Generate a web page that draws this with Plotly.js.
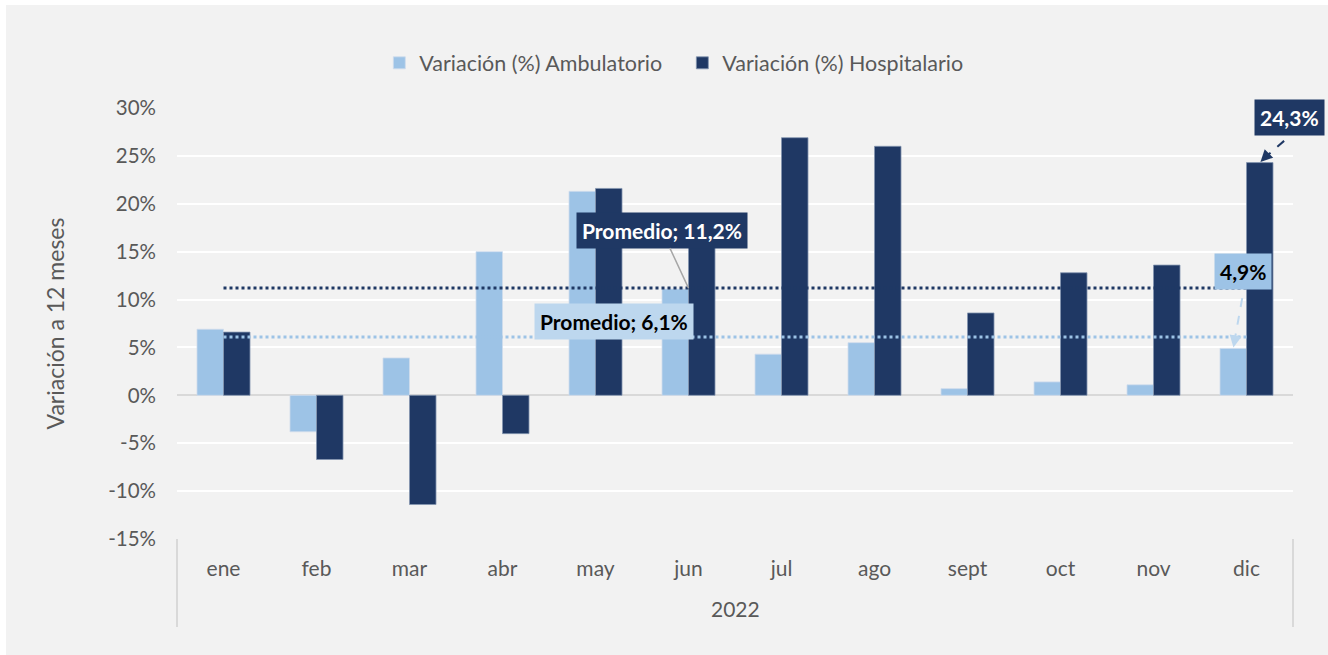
<!DOCTYPE html>
<html>
<head>
<meta charset="utf-8">
<script src="https://cdn.plot.ly/plotly-3.0.1.min.js"></script>
<style>
  html, body { margin: 0; padding: 0; background: #ffffff; }
  #chart { position: absolute; left: 6px; top: 5px; width: 1322px; height: 650px; }
</style>
</head>
<body>
<div id="chart"></div>
<script>
// ---- data ----
const months = ['ene','feb','mar','abr','may','jun','jul','ago','sept','oct','nov','dic'];
const ambulatorio = [0.069, -0.038, 0.039, 0.150, 0.213, 0.111, 0.043, 0.055, 0.007, 0.014, 0.011, 0.049];
const hospitalario = [0.066, -0.067, -0.114, -0.040, 0.216, 0.170, 0.269, 0.260, 0.086, 0.128, 0.136, 0.243];
const promedioAmb = 0.061;
const promedioHosp = 0.112;
const yTickVals = [-0.15, -0.10, -0.05, 0, 0.05, 0.10, 0.15, 0.20, 0.25, 0.30];
const yTickText = ['-15%', '-10%', '-5%', '0%', '5%', '10%', '15%', '20%', '25%', '30%'];
const yearLabel = '2022';
const seriesNames = ['Variación (%) Ambulatorio', 'Variación (%) Hospitalario'];

// ---- style ----
const cLight = '#9dc3e6';
const cLighter = '#bdd7ee';
const cDark = '#1f3864';
const cText = '#595959';
const FONT = 'Lato, "Open Sans", sans-serif';

const lastIdx = months.length - 1;
const barShift = 0.1425; // half-group offset in category units

const traces = [
  {
    type: 'bar', name: seriesNames[0], x: months, y: ambulatorio,
    marker: { color: cLight, line: { color: '#cfdcec', width: 0.8 } },
    hoverinfo: 'skip'
  },
  {
    type: 'bar', name: seriesNames[1], x: months, y: hospitalario,
    marker: { color: cDark, line: { color: '#8496b0', width: 0.8 } },
    hoverinfo: 'skip'
  },
  {
    type: 'scatter', mode: 'lines', x: months, y: months.map(() => promedioHosp),
    line: { color: cDark, width: 3, dash: 'dot' }, showlegend: false, hoverinfo: 'skip'
  },
  {
    type: 'scatter', mode: 'lines', x: months, y: months.map(() => promedioAmb),
    line: { color: cLight, width: 3, dash: 'dot' }, showlegend: false, hoverinfo: 'skip'
  }
];

const layout = {
  width: 1322, height: 650,
  paper_bgcolor: '#f2f2f2', plot_bgcolor: '#f2f2f2',
  margin: { l: 171, r: 35, t: 103, b: 116 },
  font: { family: FONT, color: cText, size: 21 },
  barmode: 'group', bargap: 0.43, bargroupgap: 0,
  showlegend: true,
  legend: {
    orientation: 'h', xref: 'container', yref: 'container',
    x: 0.5116, xanchor: 'center', y: 0.911, yanchor: 'middle',
    font: { family: FONT, size: 21.5, color: cText },
    entrywidth: 258, entrywidthmode: 'pixels',
    bgcolor: 'rgba(0,0,0,0)', traceorder: 'normal'
  },
  xaxis: {
    type: 'category', range: [-0.5, months.length - 0.5], autorange: false,
    showgrid: false, zeroline: false, showline: false,
    ticks: '', tickfont: { family: FONT, size: 21, color: cText },
    ticklabelstandoff: 15, fixedrange: true
  },
  yaxis: {
    range: [-0.15, 0.30], autorange: false, tickvals: yTickVals, ticktext: yTickText,
    showgrid: true, gridcolor: '#ffffff', gridwidth: 2,
    zeroline: true, zerolinecolor: '#d9d9d9', zerolinewidth: 2,
    showline: false, ticks: '', ticklabelstandoff: 20,
    tickfont: { family: FONT, size: 20.5, color: cText },
    title: { text: 'Variación a 12 meses', font: { family: FONT, size: 23, color: cText }, standoff: 37 },
    fixedrange: true
  },
  shapes: [
    { type: 'line', xref: 'paper', yref: 'paper', x0: 0, x1: 0, y0: 0, y1: -0.204, line: { color: '#d9d9d9', width: 2 } },
    { type: 'line', xref: 'paper', yref: 'paper', x0: 1, x1: 1, y0: 0, y1: -0.204, line: { color: '#d9d9d9', width: 2 } },
    // dashed arrow shafts
    { type: 'line', xref: 'x', yref: 'y', xsizemode: 'pixel', ysizemode: 'pixel',
      xanchor: lastIdx + barShift, yanchor: hospitalario[lastIdx], x0: 4, y0: 4, x1: 27, y1: 24,
      line: { color: cDark, width: 2, dash: 'dash' } },
    { type: 'line', xref: 'x', yref: 'y', xsizemode: 'pixel', ysizemode: 'pixel',
      xanchor: lastIdx - barShift, yanchor: ambulatorio[lastIdx], x0: 1, y0: 6, x1: 10, y1: 56,
      line: { color: cLighter, width: 2, dash: 'dash' } }
  ],
  annotations: [
    { xref: 'paper', yref: 'paper', x: 0.5, y: -0.162, text: yearLabel, showarrow: false,
      font: { family: FONT, size: 21, color: cText }, xanchor: 'center', yanchor: 'middle' },
    // Promedio hospitalario
    { xref: 'x', yref: 'y', x: 5, y: promedioHosp, ax: -27, ay: -58,
      text: '<b>Promedio; 11,2%</b>', showarrow: true, arrowhead: 0, arrowwidth: 1.5, arrowcolor: '#a6a6a6',
      bgcolor: cDark, borderpad: 5, font: { family: FONT, size: 21, color: '#ffffff' } },
    // Promedio ambulatorio
    { xref: 'x', yref: 'y', x: 4.2, y: 0.0766, showarrow: false,
      text: '<b>Promedio; 6,1%</b>', bgcolor: cLighter, borderpad: 5,
      font: { family: FONT, size: 21, color: '#000000' } },
    // 24,3% label
    { xref: 'x', yref: 'y', x: lastIdx + barShift, y: hospitalario[lastIdx], ax: 30, ay: -45,
      text: '<b>24,3%</b>', showarrow: true, arrowcolor: 'rgba(0,0,0,0)', arrowhead: 0,
      bgcolor: cDark, borderpad: 5, font: { family: FONT, size: 21, color: '#ffffff' } },
    { xref: 'x', yref: 'y', x: lastIdx + barShift, y: hospitalario[lastIdx], ax: 8, ay: -8,
      text: '', showarrow: true, arrowhead: 2, arrowsize: 1.2, arrowwidth: 2, arrowcolor: cDark, standoff: 1 },
    // 4,9% label
    { xref: 'x', yref: 'y', x: lastIdx - barShift, y: ambulatorio[lastIdx], ax: 10, ay: -77,
      text: '<b>4,9%</b>', showarrow: true, arrowcolor: 'rgba(0,0,0,0)', arrowhead: 0,
      bgcolor: cLight, borderpad: 5, font: { family: FONT, size: 21, color: '#000000' } },
    { xref: 'x', yref: 'y', x: lastIdx - barShift, y: ambulatorio[lastIdx], ax: 2, ay: -11,
      text: '', showarrow: true, arrowhead: 2, arrowsize: 1.2, arrowwidth: 2, arrowcolor: cLighter, standoff: 1 }
  ]
};

Plotly.newPlot('chart', traces, layout, { displayModeBar: false, staticPlot: true });
</script>
</body>
</html>
